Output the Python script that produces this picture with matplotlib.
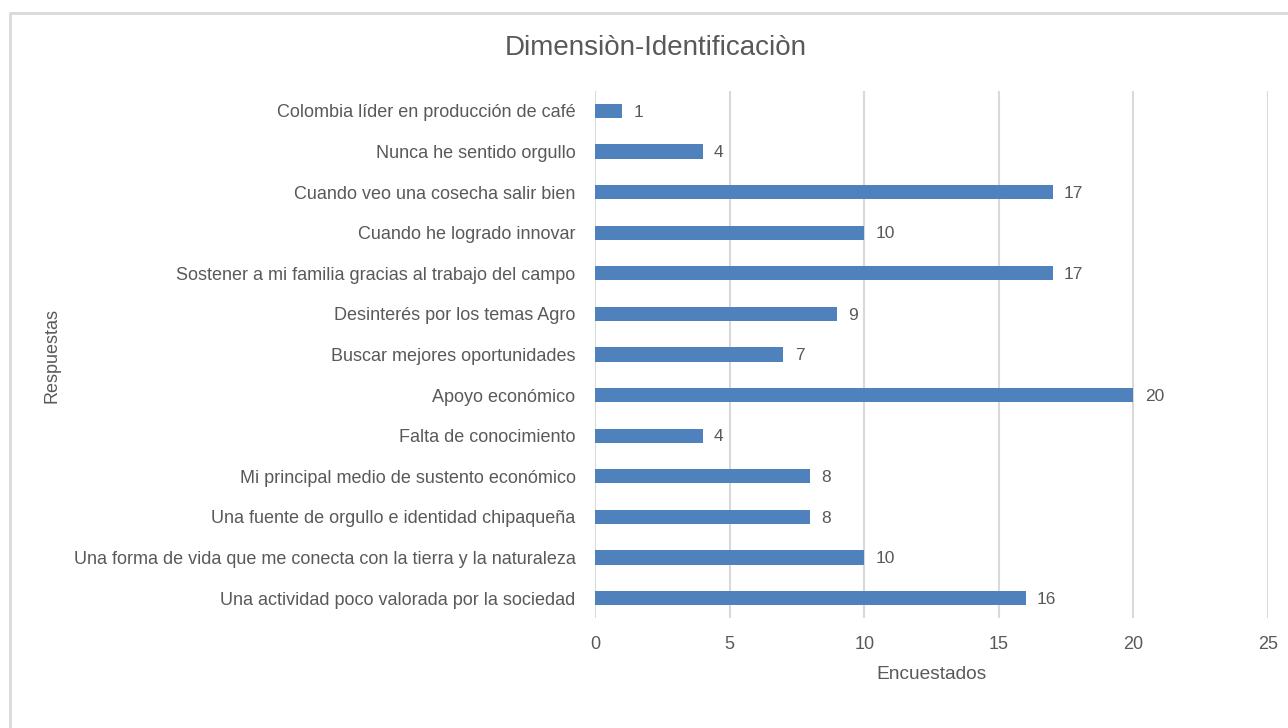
import numpy as np
import matplotlib
matplotlib.use("Agg")
import matplotlib.pyplot as plt
from matplotlib.patches import Rectangle

plt.rcParams['font.family'] = ['Liberation Sans', 'DejaVu Sans']

TEXT_COLOR = '#595959'
BAR_COLOR = '#4F81BD'
GRID_COLOR = '#D9D9D9'

# categories from top to bottom, as shown
respuestas = ['Colombia líder en producción de café',
              'Nunca he sentido orgullo',
              'Cuando veo una cosecha salir bien',
              'Cuando he logrado innovar',
              'Sostener a mi familia gracias al trabajo del campo',
              'Desinterés por los temas Agro',
              'Buscar mejores oportunidades',
              'Apoyo económico',
              'Falta de conocimiento',
              'Mi principal medio de sustento económico',
              'Una fuente de orgullo e identidad chipaqueña',
              'Una forma de vida que me conecta con la tierra y la naturaleza',
              'Una actividad poco valorada por la sociedad']
encuestados = [1, 4, 17, 10, 17, 9, 7, 20, 4, 8, 8, 10, 16]
x_ticks = [0, 5, 10, 15, 20, 25]

fig = plt.figure(figsize=(12.88, 7.28), dpi=100)
fig.patch.set_facecolor('white')

# light grey chart frame (Excel style), runs off the right edge
frame = Rectangle((10/1288, -0.1), 1.2, 1 - 13/728 + 0.1, transform=fig.transFigure,
                  fill=False, edgecolor=GRID_COLOR, linewidth=2)
fig.patches.append(frame)

ax = fig.add_axes([595/1288, 1 - 618.3/728, (1268 - 595)/1288, (618.3 - 90.7)/728])

ypos = np.arange(len(respuestas))
ax.barh(ypos, encuestados, height=0.35, color=BAR_COLOR, zorder=3)
for y, v in zip(ypos, encuestados):
    ax.text(v + 0.42, y + 0.03, str(v), va='center', ha='left', fontsize=12.5, color=TEXT_COLOR)

ax.set_ylim(len(respuestas) - 0.5, -0.5)
ax.set_xlim(0, 25)
ax.set_xticks(x_ticks)
ax.set_yticks(ypos)
ax.set_yticklabels(respuestas)
ax.tick_params(axis='both', length=0, colors=TEXT_COLOR, labelsize=13)
ax.tick_params(axis='x', pad=13)
ax.tick_params(axis='y', pad=14)
ax.xaxis.grid(True, color=GRID_COLOR, linewidth=1.5, zorder=0)
for s in ax.spines.values():
    s.set_visible(False)

ax.set_xlabel('Encuestados', fontsize=13.8, color=TEXT_COLOR, labelpad=9)
fig.text(52/1288, 1 - 355/728, 'Respuestas', rotation=90, ha='center', va='center',
         fontsize=13, color=TEXT_COLOR)
fig.text(656/1288, 1 - 48/728, 'Dimensiòn-Identificaciòn', ha='center', va='center',
         fontsize=20, color=TEXT_COLOR)

fig.savefig('out.png', dpi=100)
